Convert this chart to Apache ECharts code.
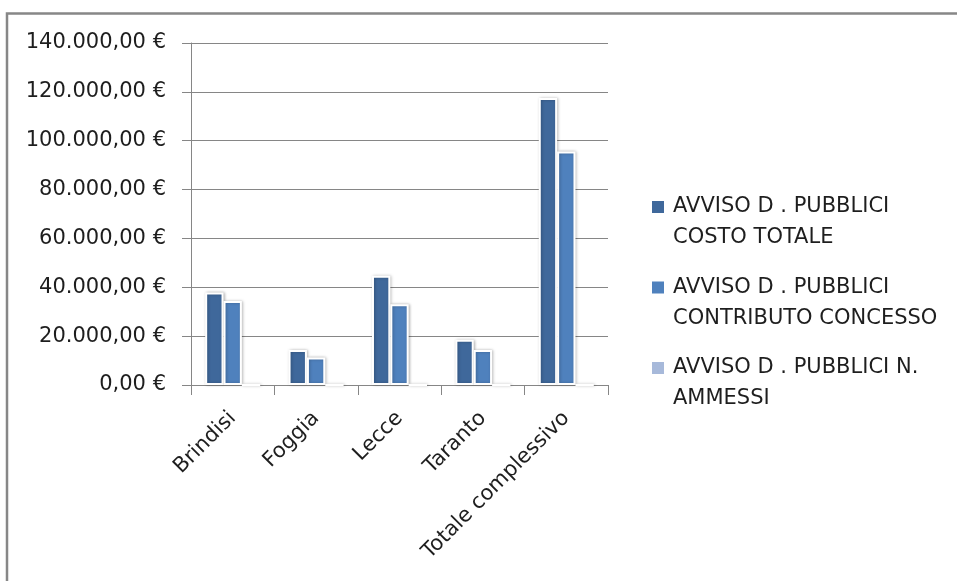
<!DOCTYPE html>
<html>
<head>
<meta charset="utf-8">
<script src="https://cdn.jsdelivr.net/npm/echarts@6/dist/echarts.min.js"></script>
<style>
html,body{margin:0;padding:0;background:#fff;}
#chart{width:957px;height:581px;}
</style>
</head>
<body>
<div id="chart"></div>
<script>
const categories = ['Brindisi', 'Foggia', 'Lecce', 'Taranto', 'Totale complessivo'];
const seriesNames = [
  'AVVISO D . PUBBLICI COSTO TOTALE',
  'AVVISO D . PUBBLICI CONTRIBUTO CONCESSO',
  'AVVISO D . PUBBLICI N. AMMESSI'
];
const legendLines = [
  'AVVISO D . PUBBLICI\nCOSTO TOTALE',
  'AVVISO D . PUBBLICI\nCONTRIBUTO CONCESSO',
  'AVVISO D . PUBBLICI N.\nAMMESSI'
];
const costoTotale = [37900, 14300, 44700, 18500, 117500];
const contributoConcesso = [34400, 11300, 33100, 14300, 95600];
const nAmmessi = [4, 2, 5, 2, 13];
const yTicks = { min: 0, max: 140000, interval: 20000 };
const colors = ['#3F689B', '#4F81BD', '#A7B9DA'];

function fmtEuro(v) {
  const s = Math.round(v).toString().replace(/\B(?=(\d{3})+(?!\d))/g, '.');
  return s + ',00 €';
}

const font = 'DejaVu Sans';
const chart = echarts.init(document.getElementById('chart'), null, { renderer: 'canvas' });
const barStyle = (c) => ({
  color: c,
  borderColor: '#ffffff',
  borderWidth: 2,
  shadowColor: 'rgba(0,0,0,0.25)',
  shadowBlur: 3,
  shadowOffsetX: 1,
  shadowOffsetY: 0
});
const dataSets = [costoTotale, contributoConcesso, nAmmessi];

chart.setOption({
  animation: false,
  backgroundColor: '#ffffff',
  color: colors,
  graphic: [{
    type: 'rect',
    shape: { x: 7, y: 13.5, width: 970, height: 600 },
    style: { fill: 'none', stroke: '#878787', lineWidth: 2.5 },
    silent: true
  }],
  grid: { left: 191, right: 349, top: 43, bottom: 196, containLabel: false },
  legend: {
    orient: 'vertical',
    left: 650,
    top: 160.5,
    padding: 0,
    itemWidth: 14,
    itemHeight: 14,
    itemGap: -12.5,
    icon: 'rect',
    selectedMode: false,
    data: seriesNames,
    formatter: (name) => '\n' + legendLines[seriesNames.indexOf(name)],
    textStyle: {
      fontFamily: font,
      fontSize: 21,
      lineHeight: 31,
      color: '#1e1e1e',
      padding: [0, 0, 0, 3]
    }
  },
  xAxis: {
    type: 'category',
    data: categories,
    boundaryGap: true,
    axisLine: { show: true, lineStyle: { color: '#868686', width: 1 } },
    axisTick: { show: true, length: 10, lineStyle: { color: '#868686' } },
    axisLabel: {
      rotate: 45,
      margin: 30,
      fontFamily: font,
      fontSize: 21,
      color: '#1e1e1e',
      interval: 0
    }
  },
  yAxis: {
    type: 'value',
    min: yTicks.min,
    max: yTicks.max,
    interval: yTicks.interval,
    axisLine: { show: true, lineStyle: { color: '#868686', width: 1 } },
    axisTick: { show: true, length: 9, lineStyle: { color: '#868686' } },
    splitLine: { show: true, lineStyle: { color: '#868686', width: 1 } },
    axisLabel: {
      margin: 25,
      fontFamily: font,
      fontSize: 21,
      color: '#1e1e1e',
      formatter: fmtEuro
    }
  },
  series: seriesNames.map((n, i) => ({
    name: n,
    type: 'bar',
    data: dataSets[i],
    barGap: '0%',
    barCategoryGap: '34%',
    itemStyle: barStyle(colors[i])
  }))
});
</script>
</body>
</html>
